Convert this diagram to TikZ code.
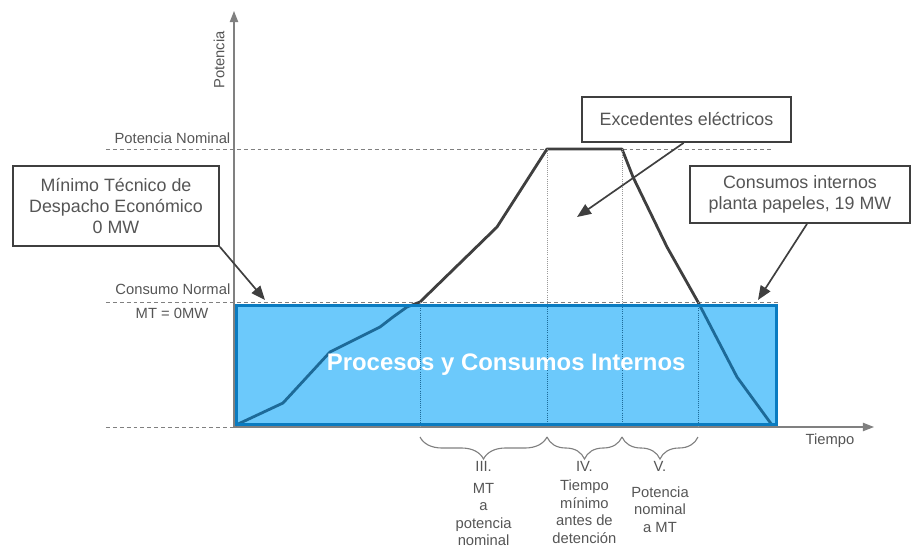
\documentclass[tikz,border=0pt]{standalone}
\usepackage{fontspec}
\setmainfont{Liberation Sans}
\usetikzlibrary{arrows.meta,decorations.pathreplacing}

\definecolor{txtgray}{HTML}{555555}
\definecolor{linegray}{HTML}{3F3F3F}
\definecolor{procfill}{HTML}{6CC9FB}
\definecolor{procedge}{HTML}{0A7BC0}
\definecolor{procline}{HTML}{1D6A98}

\tikzset{
  axis/.style={draw=gray, line width=0.9pt, -{Triangle[length=8pt,width=6pt]}},
  level/.style={gray, dash pattern=on 2.8pt off 2.1pt, line width=0.6pt},
  phase/.style={gray!80, densely dotted, line width=0.5pt},
  note/.style={text=txtgray, font=\fontsize{10.5}{12.5}\selectfont, inner sep=1pt, align=center},
  callout/.style={draw=linegray, fill=white, line width=1.2pt, text=txtgray, align=center,
    font=\fontsize{12.7}{15}\selectfont},
  pointer/.style={linegray, line width=1.2pt, -{Triangle[length=10pt,width=8pt]}},
  ramp/.style={line width=2pt, line join=round},
  phasebrace/.style={decorate, decoration={brace, mirror, amplitude=0.55cm}, gray, line width=0.8pt},
}

% power profile of the unit
\newcommand{\ramppath}{(0.05,0.05) -- (1.225,0.6) -- (2.4,1.875) -- (3.65,2.5) -- (3.975,2.75)
  -- (4.325,3.0) -- (4.65,3.125) -- (6.575,5.0) -- (7.825,6.95) -- (9.7,6.95) -- (9.975,6.25)
  -- (10.825,4.5) -- (11.6,3.125) -- (12.575,1.25) -- (13.45,0.05)}
\newcommand{\phaselines}{(4.65,3.125) -- (4.65,0) (7.825,6.95) -- (7.825,0)
  (9.7,6.95) -- (9.7,0) (11.6,3.125) -- (11.6,0)}

\begin{document}
\begin{tikzpicture}
    \useasboundingbox (-5.85,-3.05) rectangle (16.95,10.675);

    % Levels
    \draw[level] (-3.2,6.95) -- (13.5,6.95);
    \draw[level] (-3.2,3.125) -- (13.6,3.125);
    \draw[level] (-3.2,0) -- (0,0);
    \node[note, anchor=east] (pnom) at (-0.05,7.225) {Potencia Nominal};
    \node[note, anchor=east] (cnom) at (-0.05,3.45) {Consumo Normal};
    \node[note] (mtzero) at (-1.55,2.85) {MT = 0MW};

    % Axes
    \draw[axis] (0,0) -- (0,10.4);
    \draw[axis] (0,0) -- (16,0);
    \node[note, rotate=90] (ylab) at (-0.375,9.175) {Potencia};
    \node[note, anchor=north east] (xlab) at (15.55,-0.12) {Tiempo};

    % Profile and phase limits
    \draw[ramp, linegray] \ramppath;
    \draw[phase] \phaselines;

    % Internal consumption block
    \node[fill=procfill, minimum width=13.49cm, minimum height=2.98cm, inner sep=0pt]
        (proc) at (6.805,1.55) {};
    \begin{scope}
        \clip (proc.south west) rectangle (proc.north east);
        \draw[ramp, procline] \ramppath;
        \draw[phase, procline] \phaselines;
    \end{scope}
    \draw[procedge, line width=2pt] (proc.south west) rectangle (proc.north east);
    \node[text=white, font=\fontsize{17}{20}\selectfont\bfseries] (proctext) at (proc)
        {Procesos y Consumos Internos};

    % Phases
    \draw[phasebrace] (4.65,-0.25) -- (7.825,-0.25);
    \draw[phasebrace] (7.825,-0.25) -- (9.7,-0.25);
    \draw[phasebrace] (9.7,-0.25) -- (11.6,-0.25);
    \node[note] (nIII) at (6.24,-0.975) {III.};
    \node[note] (nIV) at (8.76,-0.975) {IV.};
    \node[note] (nV) at (10.65,-0.975) {V.};
    \node[note] (dIII) at (6.24,-2.19) {MT\\a\\potencia\\nominal};
    \node[note] (dIV) at (8.76,-2.12) {Tiempo\\mínimo\\antes de\\detención};
    \node[note] (dV) at (10.65,-2.06) {Potencia\\nominal\\a MT};

    % Callouts
    \node[callout, minimum width=5.15cm, minimum height=2cm] (minimo) at (-2.95,5.525)
        {Mínimo Técnico de\\Despacho Económico\\0 MW};
    \node[callout, minimum width=5.225cm, minimum height=1.125cm] (exced) at (11.3125,7.6875)
        {Excedentes eléctricos};
    \node[callout, minimum width=5.5cm, minimum height=1.425cm] (consumos) at (14.15,5.8125)
        {Consumos internos\\planta papeles, 19 MW};
    \coordinate (minTip) at (0.775,3.175);
    \coordinate (excTip) at (8.575,5.25);
    \coordinate (consTip) at (13.1,3.175);
    \draw[pointer] (minimo.south east) -- (minTip);
    \draw[pointer] ([xshift=-2pt]exced.south) -- (excTip);
    \draw[pointer] ([xshift=5pt]consumos.south) -- (consTip);
\end{tikzpicture}
\end{document}
